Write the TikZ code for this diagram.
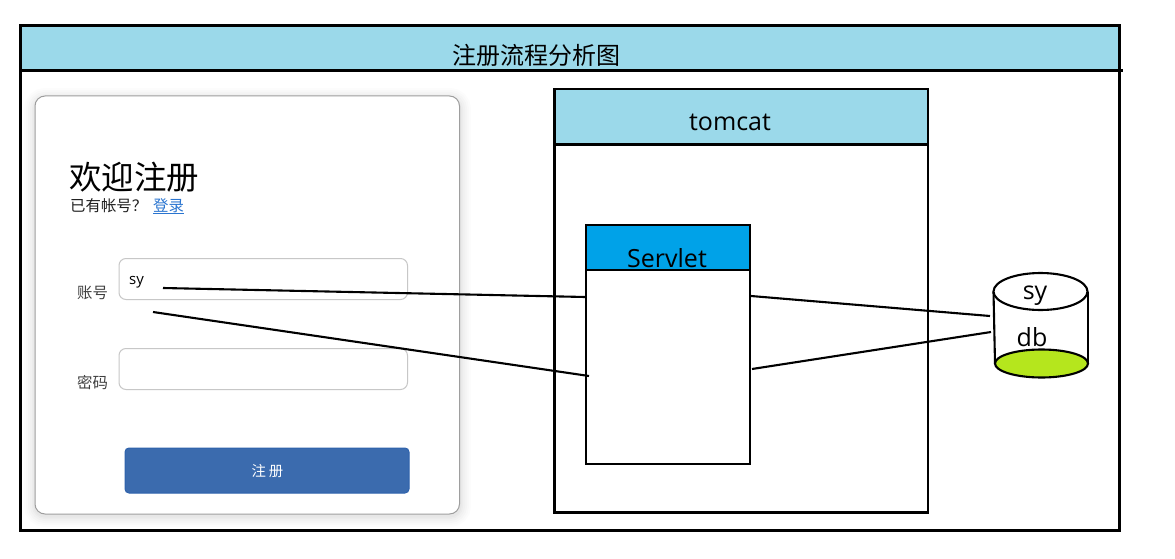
\documentclass[tikz,border=0pt]{standalone}
\usepackage{fontspec}
\setmainfont{Open Sans}
\newfontfamily\cjk{Noto Sans CJK SC}
\newcommand{\fs}[1]{\fontsize{#1}{#1}\selectfont}
\definecolor{band}{HTML}{9BD9EA}
\definecolor{servblue}{HTML}{00A2E8}
\definecolor{dbgreen}{HTML}{B5E61D}
\definecolor{btn}{HTML}{3B6BAE}
\definecolor{btnedge}{HTML}{2E62AC}
\definecolor{lnk}{HTML}{2A75D0}
\tikzset{
  heavy/.style={draw=black,line width=2.1pt},
  link/.style={draw=black,line width=2.1pt},
  txt/.style={inner sep=0pt,anchor=center,text=black},
  field/.style={draw=black!22,line width=1pt,rounded corners=7pt,fill=white,outer sep=0pt},
}
\begin{document}
\begin{tikzpicture}[x=1pt,y=-1pt]
\useasboundingbox (0,0) rectangle (1175,559);
\fill[white] (0,0) rectangle (1175,559);
% frame
\path[fill=band] (20.5,25.5) rectangle (1119.5,70);
\draw[heavy] (20.5,25.5) rectangle (1119.5,530.5);
\coordinate (ruleL) at (20,70.5);
\coordinate (ruleR) at (1123,70.5);
\draw[heavy] (ruleL) -- (ruleR);
\node[txt,font=\cjk\fs{24}] (title) at (536,55) {注册流程分析图};
% card shadow
\foreach \w/\o in {22/0.012,18/0.012,14/0.014,10/0.015,6/0.018,3/0.02}{
  \draw[black,opacity=\o,line width=\w pt,rounded corners=10pt] (35,99) rectangle (460,516);
}
\draw[fill=white,draw=black!38,line width=1pt,rounded corners=10pt] (35,96) rectangle (459.5,514);
\node[txt,anchor=west,font=\cjk\fs{32.5}] (welcome) at (69,177) {欢迎注册};
\node[txt,anchor=west,font=\cjk\fs{15.4},text=black!88] (have) at (70,205.5) {已有帐号？};
\node[txt,anchor=west,font=\cjk\fs{15.4},text=lnk] (login) at (153,205.5) {登录};
\draw[lnk,line width=1pt] (login.west |- 0,213.5) -- (login.east |- 0,213.5);
\node[field,minimum width=288.5pt,minimum height=41pt,anchor=north west] (user) at (119,258.5) {};
\node[field,minimum width=288.5pt,minimum height=41pt,anchor=north west] (pass) at (119,348.5) {};
\node[txt,anchor=west,font=\cjk\fs{15.4},text=black!75] (ulabel) at (77,292.5) {账号};
\node[txt,anchor=west,font=\cjk\fs{15.4},text=black!75] (plabel) at (77,382.5) {密码};
\node[txt,anchor=west,font=\fs{15}] (sy) at (129,282) {sy};
\node[draw=btnedge,fill=btn,line width=1pt,rounded corners=4pt,minimum width=284pt,minimum height=45pt,anchor=north west,inner sep=0pt,outer sep=0pt] (submit) at (125,448) {};
\node[txt,font=\cjk\fs{14.4},text=white] (sublabel) at (267.5,471) {注\hspace{3pt}册};
% tomcat
\node[draw=none,fill=band,minimum width=374pt,minimum height=55pt,anchor=north west,inner sep=0pt,outer sep=0pt] (tomhead) at (554,89) {};
\draw[heavy] (554.5,89) rectangle (928,512.5);
\draw[heavy] (554.5,144.5) -- (928,144.5);
\node[txt,font=\fs{25}] (tomcat) at (730,122.5) {tomcat};
% servlet
\node[draw=none,fill=servblue,minimum width=164pt,minimum height=45pt,anchor=north west,inner sep=0pt,outer sep=0pt] (servhead) at (586,225) {};
\node[heavy,minimum width=164pt,minimum height=239pt,anchor=north west,inner sep=0pt,outer sep=0pt] (servbox) at (586,225) {};
\draw[heavy] (586,270) -- (750,270);
\node[txt,font=\fs{25}] (servlet) at (667,258) {Servlet};
% cylinder
\draw[heavy] (993.5,292) -- (995,363);
\draw[heavy] (1088,292) -- (1088,363);
\draw[heavy,fill=dbgreen] (1041.5,363.5) ellipse [x radius=46.5pt,y radius=14pt];
\draw[heavy,fill=white] (1040.5,291.5) ellipse [x radius=47pt,y radius=18.5pt];
\node[txt,font=\fs{25}] (cylsy) at (1035,296) {sy};
\node[txt,font=\fs{25}] (db) at (1032,337) {db};
% connectors
\coordinate (a1) at (163,288);
\coordinate (a2) at (585,297);
\coordinate (b1) at (153,312);
\coordinate (b2) at (589,376);
\coordinate (c1) at (751,296);
\coordinate (c2) at (990,316);
\coordinate (d1) at (752,369);
\coordinate (d2) at (991,332);
\draw[link] (a1) -- (a2);
\draw[link] (b1) -- (b2);
\draw[link] (c1) -- (c2);
\draw[link] (d1) -- (d2);
\end{tikzpicture}
\end{document}
